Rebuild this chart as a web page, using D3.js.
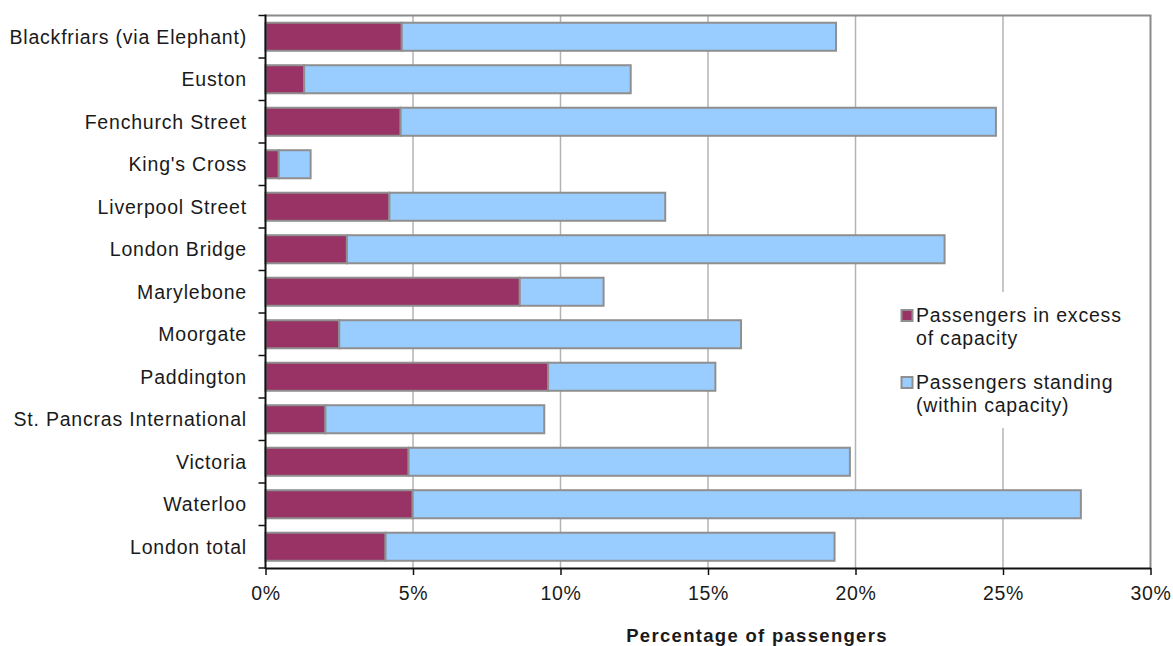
<!DOCTYPE html>
<html>
<head>
<meta charset="utf-8">
<script src="https://cdn.jsdelivr.net/npm/d3@7"></script>
<style>
  html, body { margin: 0; padding: 0; background: #fff; }
  svg { display: block; }
  text { font-family: "Liberation Sans", Arial, sans-serif; fill: #1a1a1a; }
</style>
</head>
<body>
<svg id="chart" width="1173" height="646"></svg>
<script>
const categories = ["Blackfriars (via Elephant)", "Euston", "Fenchurch Street", "King's Cross",
  "Liverpool Street", "London Bridge", "Marylebone", "Moorgate", "Paddington",
  "St. Pancras International", "Victoria", "Waterloo", "London total"];
const excess   = [4.62, 1.31, 4.58, 0.45, 4.20, 2.76, 8.62, 2.50, 9.58, 2.03, 4.85, 4.99, 4.07];
const standing = [14.72, 11.07, 20.18, 1.08, 9.35, 20.26, 2.84, 13.62, 5.67, 7.42, 14.96, 22.65, 15.22];
const seriesNames = ["Passengers in excess of capacity", "Passengers standing (within capacity)"];
const legendLines = [["Passengers in excess", "of capacity"], ["Passengers standing", "(within capacity)"]];
const xTicks = [0, 5, 10, 15, 20, 25, 30];
const xTitle = "Percentage of passengers";
const colors = ["#993366", "#99CCFF"];

const svg = d3.select("#chart");
const m = { left: 265.5, right: 1150.5, top: 15.5, bottom: 568 };

const x = d3.scaleLinear().domain([0, 30]).range([m.left, m.right]);
const y = d3.scaleBand().domain(categories).range([m.top, m.bottom]).paddingInner(0.34).paddingOuter(0.17);

const table = categories.map((c, i) => ({ cat: c, excess: excess[i], standing: standing[i] }));
const stacked = d3.stack().keys(["excess", "standing"])(table);

// gridlines
svg.append("g").selectAll("line").data(xTicks.filter(t => t > 0 && t < 30)).join("line")
  .attr("x1", d => x(d)).attr("x2", d => x(d))
  .attr("y1", m.top).attr("y2", m.bottom)
  .attr("stroke", "#b3b3b3").attr("stroke-width", 1.5);

// plot border (top & right)
svg.append("path")
  .attr("d", `M${m.left},${m.top}H${m.right}V${m.bottom}`)
  .attr("fill", "none").attr("stroke", "#8a8a8a").attr("stroke-width", 2);

// bars
svg.append("g").selectAll("g").data(stacked).join("g")
  .attr("fill", (d, i) => colors[i])
  .selectAll("rect").data(d => d.map(v => ({ v, cat: v.data.cat }))).join("rect")
  .attr("x", d => x(d.v[0]))
  .attr("y", d => y(d.cat))
  .attr("width", d => x(d.v[1]) - x(d.v[0]))
  .attr("height", y.bandwidth())
  .attr("stroke", "#8f8f8f").attr("stroke-width", 2);

// legend background (covers gridline)
const lg = svg.append("g");
lg.append("rect").attr("x", 893).attr("y", 292).attr("width", 240).attr("height", 136).attr("fill", "#fff");
legendLines.forEach((lines, i) => {
  const y0 = 315 + i * 67;
  lg.append("rect").attr("x", 901.5).attr("y", y0 - 5).attr("width", 11).attr("height", 11)
    .attr("fill", colors[i]).attr("stroke", "#8f8f8f").attr("stroke-width", 2);
  lines.forEach((t, j) => {
    lg.append("text").attr("x", 916).attr("y", y0 + j * 23 + 7)
      .style("font-size", "19.5px").style("letter-spacing", "0.8px").text(t);
  });
});

// x axis
const xAxis = d3.axisBottom(x).tickValues(xTicks).tickFormat(d => d + "%").tickSize(7).tickSizeOuter(0);
const gx = svg.append("g").attr("transform", `translate(0,${m.bottom})`).call(xAxis);
gx.select(".domain").attr("stroke", "#111").attr("stroke-width", 2);
gx.selectAll(".tick line").attr("stroke", "#111").attr("stroke-width", 1.5);
gx.selectAll(".tick text").attr("y", 18).attr("dy", "0.71em")
  .style("font-size", "19.5px").style("letter-spacing", "0.6px")
  .style("font-family", "'Liberation Sans', Arial, sans-serif").attr("fill", "#1a1a1a");

// y axis
const yTickScale = d3.scaleLinear().domain([0, categories.length]).range([m.top, m.bottom]);
const gy = svg.append("g");
gy.append("line").attr("x1", m.left).attr("x2", m.left).attr("y1", m.top - 1).attr("y2", m.bottom + 1)
  .attr("stroke", "#111").attr("stroke-width", 2);
gy.selectAll("line.t").data(d3.range(categories.length + 1)).join("line").attr("class", "t")
  .attr("x1", m.left - 7).attr("x2", m.left)
  .attr("y1", d => yTickScale(d)).attr("y2", d => yTickScale(d))
  .attr("stroke", "#111").attr("stroke-width", 1.5);
gy.selectAll("text").data(categories).join("text")
  .attr("x", 247).attr("y", d => y(d) + y.bandwidth() / 2).attr("dy", "0.36em")
  .attr("text-anchor", "end")
  .style("font-size", "19.5px").style("letter-spacing", "0.8px")
  .text(d => d);

// x title
svg.append("text").attr("x", 757).attr("y", 642)
  .attr("text-anchor", "middle")
  .style("font-size", "18.5px").style("font-weight", "bold").style("letter-spacing", "1.3px")
  .attr("fill", "#000")
  .text(xTitle);
</script>
</body>
</html>
